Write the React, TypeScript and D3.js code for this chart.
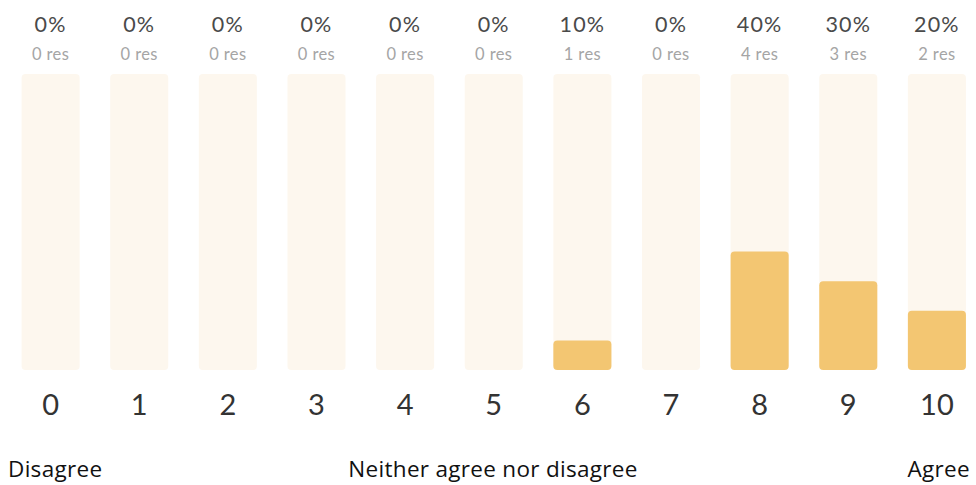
import React from "react";
import * as d3 from "d3";

const categories = ["0", "1", "2", "3", "4", "5", "6", "7", "8", "9", "10"];
const percents = [0, 0, 0, 0, 0, 0, 10, 0, 40, 30, 20];
const responses = [0, 0, 0, 0, 0, 0, 1, 0, 4, 3, 2];
const scaleLabels = ["Disagree", "Neither agree nor disagree", "Agree"];

export default function App() {
  const W = 976, H = 485;
  const x = d3.scaleBand<string>().domain(categories).range([6.5, 981]).paddingInner(0.345).paddingOuter(0.17);
  const y = d3.scaleLinear().domain([0, 100]).range([370, 74]);
  const bw = x.bandwidth();
  return (
    <svg width={W} height={H} style={{ position: "absolute", left: 0, top: 0, background: "#fff" }}>
      {categories.map((c, i) => {
        const x0 = x(c)!;
        const cx = x0 + bw / 2;
        const h = y(0) - y(percents[i]);
        return (
          <g key={c}>
            <rect x={x0} y={y(100)} width={bw} height={y(0) - y(100)} rx={4} fill="#fdf7ee" />
            {percents[i] > 0 && (
              <rect x={x0} y={y(percents[i])} width={bw} height={h} rx={4} fill="#f3c672" />
            )}
            <text x={cx} y={32} textAnchor="middle" fontFamily="Lato" fontSize={21.5} letterSpacing={1.2} fill="#4a4a4a">{percents[i]}%</text>
            <text x={cx} y={60} textAnchor="middle" fontFamily="Lato" fontSize={16.5} letterSpacing={0.4} fill="#a5a5a5">{responses[i]} res</text>
            <text x={cx} y={415} textAnchor="middle" fontFamily="Lato" fontSize={29} fill="#333">{c}</text>
          </g>
        );
      })}
      <text x={8} y={477} fontFamily="Open Sans" fontSize={22.5} letterSpacing={0.3} fill="#111">{scaleLabels[0]}</text>
      <text x={493} y={477} textAnchor="middle" fontFamily="Open Sans" fontSize={22.5} letterSpacing={0.3} fill="#111">{scaleLabels[1]}</text>
      <text x={970} y={477} textAnchor="end" fontFamily="Open Sans" fontSize={22.5} letterSpacing={0.3} fill="#111">{scaleLabels[2]}</text>
    </svg>
  );
}
